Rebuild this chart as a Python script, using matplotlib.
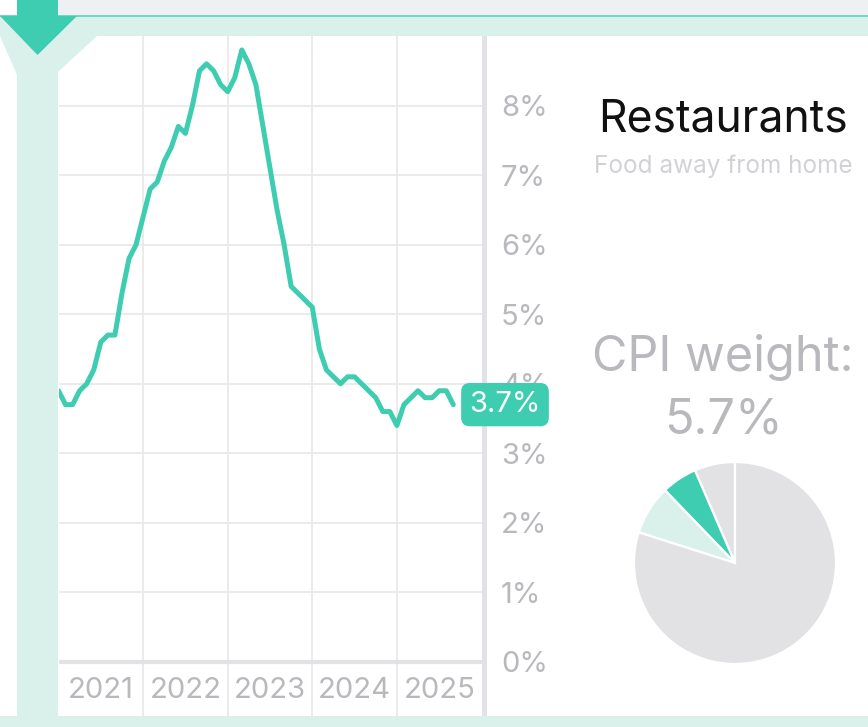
import matplotlib
matplotlib.use('Agg')
import matplotlib.pyplot as plt
from matplotlib.patches import Rectangle, Polygon

# Restaurants (food away from home) CPI, 12-month change, Jan 2021 - Sep 2025
cpi_yoy = [3.9, 3.7, 3.7, 3.9, 4.0, 4.2, 4.6, 4.7, 4.7, 5.3, 5.8, 6.0,
           6.4, 6.8, 6.9, 7.2, 7.4, 7.7, 7.6, 8.0, 8.5, 8.6, 8.5, 8.3,
           8.2, 8.4, 8.8, 8.6, 8.3, 7.7, 7.1, 6.5, 6.0, 5.4, 5.3, 5.2,
           5.1, 4.5, 4.2, 4.1, 4.0, 4.1, 4.1, 4.0, 3.9, 3.8, 3.6, 3.6,
           3.4, 3.7, 3.8, 3.9, 3.8, 3.8, 3.9, 3.9, 3.7]
years = ['2021', '2022', '2023', '2024', '2025']
y_ticks = [0, 1, 2, 3, 4, 5, 6, 7, 8]

# CPI weight pie: other (gray), restaurants, food at home, rest of basket
pie_values = [6.5, 5.7, 7.9, 79.9]
weight_label = '5.7%'

TEAL = '#3ecdb0'
TEAL_LIGHT = '#daf1eb'
GRAY_LINE = '#e2e2e6'
GRID = '#e9e9eb'
TEXT_GRAY = '#b8b8bd'

plt.rcParams['font.family'] = ['Inter', 'DejaVu Sans']

W, H = 868, 727
fig = plt.figure(figsize=(W / 100, H / 100), dpi=100)
fig.patch.set_facecolor('white')


def fx(px):
    return px / W


def fy(py):
    return 1 - py / H


# --- frame decorations (pixel coordinates) ---
fig.add_artist(Rectangle((fx(58), fy(15)), fx(W - 58), 15 / H,
                         transform=fig.transFigure, color='#eff0f4', lw=0))
fig.add_artist(Rectangle((0, fy(17)), 1, 2 / H,
                         transform=fig.transFigure, color='#6fd9c5', lw=0))
funnel = [(0, 17), (W, 17), (W, 36), (97, 36), (58, 72), (58, 716),
          (17, 716), (17, 75), (0, 36)]
fig.add_artist(Polygon([(fx(a), fy(b)) for a, b in funnel], closed=True,
                       transform=fig.transFigure, color=TEAL_LIGHT, lw=0))
fig.add_artist(Rectangle((0, 0), 1, (H - 716) / H,
                         transform=fig.transFigure, color=TEAL_LIGHT, lw=0))
# arrow
fig.add_artist(Rectangle((fx(17), fy(17)), fx(41), 17 / H,
                         transform=fig.transFigure, color=TEAL, lw=0))
arrow = [(0, 16), (77, 16), (37.5, 55)]
fig.add_artist(Polygon([(fx(a), fy(b)) for a, b in arrow], closed=True,
                       transform=fig.transFigure, color=TEAL, lw=0))
# thick right border of the plot (behind the axes so the badge covers it)
fig.add_artist(Rectangle((fx(482), fy(716)), fx(5), (716 - 36) / H,
                         transform=fig.transFigure, color=GRAY_LINE, lw=0,
                         zorder=-1))

# --- line chart ---
x0, x1 = 58.5, 481.5
ytop, ybot, yzero = 36, 716, 662
per_pct = (yzero - ytop) / 9.0
ax = fig.add_axes([fx(x0), fy(ybot), fx(x1 - x0), (ybot - ytop) / H])
ax.set_xlim(0, 60)
ax.set_ylim(-(ybot - yzero) / per_pct, 9)
ax.set_facecolor('none')
for s in ax.spines.values():
    s.set_visible(False)

for v in y_ticks[1:]:
    ax.axhline(v, color=GRID, lw=1.3, zorder=1)
for i in range(1, len(years)):
    ax.axvline(i * 12, color=GRID, lw=1.3, zorder=1)
ax.axhline(0, color=GRAY_LINE, lw=3, zorder=2)

months = list(range(len(cpi_yoy)))
ax.plot(months, cpi_yoy, color=TEAL, lw=3.6, solid_joinstyle='round',
        solid_capstyle='round', zorder=3)

ax.set_xticks([])
ax.yaxis.tick_right()
ax.set_yticks(y_ticks)
ax.set_yticklabels([f'{v}%' for v in y_ticks])
ax.tick_params(axis='y', length=0, pad=14, labelsize=21, labelcolor=TEXT_GRAY)

ymid = -(ybot - yzero) / per_pct / 2
for i, yr in enumerate(years):
    ax.text(i * 12 + 6, ymid - 0.02, yr, ha='center', va='center',
            fontsize=21, color=TEXT_GRAY)

ax.annotate(f'{cpi_yoy[-1]}%', xy=(months[-1], cpi_yoy[-1]),
            xytext=(16, 0), textcoords='offset pixels', ha='left', va='center',
            fontsize=21, color='white', zorder=6, annotation_clip=False,
            bbox=dict(boxstyle='round,pad=0.28,rounding_size=0.3',
                      fc=TEAL, ec='none'))

# --- right panel ---
cx = 723
fig.text(fx(cx), fy(119), 'Restaurants', ha='center', va='center',
         fontsize=32, color='#111111')
fig.text(fx(cx), fy(166), 'Food away from home', ha='center', va='center',
         fontsize=17.5, color='#d2d2d6')
fig.text(fx(cx), fy(357), 'CPI weight:', ha='center', va='center',
         fontsize=35, color=TEXT_GRAY)
fig.text(fx(cx), fy(421), weight_label, ha='center', va='center',
         fontsize=35, color=TEXT_GRAY)

r = 101
pax = fig.add_axes([fx(735 - r), fy(563 + r), fx(2 * r), 2 * r / H])
pax.pie(pie_values, colors=['#e2e2e5', TEAL, TEAL_LIGHT, '#e2e2e5'],
        startangle=90, counterclock=True,
        wedgeprops=dict(edgecolor='white', linewidth=1.6))
pax.set_xlim(-1, 1)
pax.set_ylim(-1, 1)
pax.set_aspect('equal')

fig.savefig('out.png', dpi=100)
